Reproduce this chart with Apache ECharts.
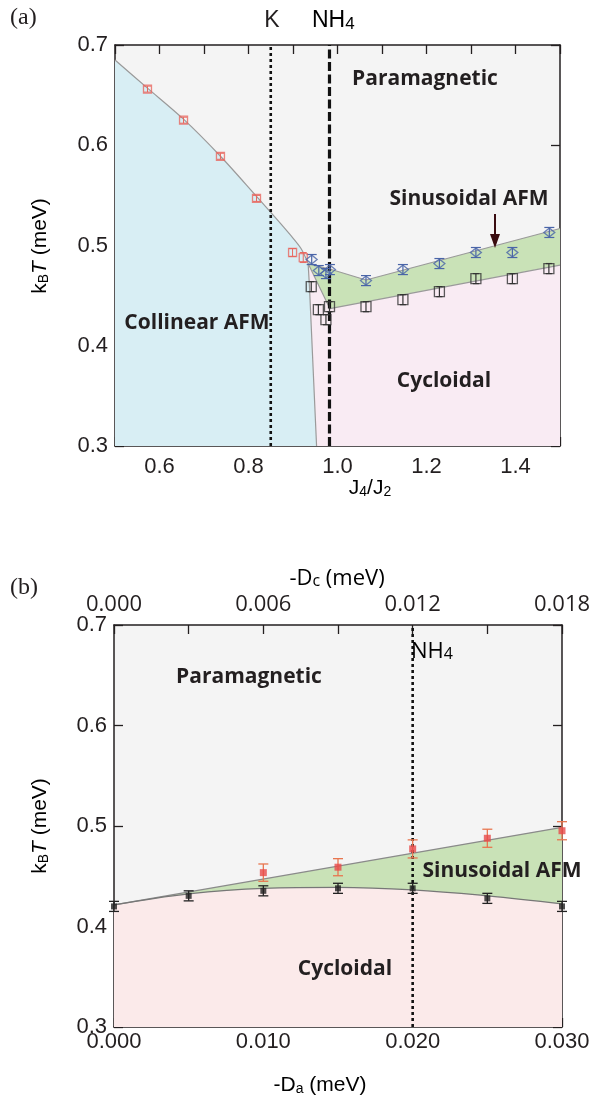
<!DOCTYPE html>
<html><head><meta charset="utf-8">
<script src="https://cdn.jsdelivr.net/npm/echarts@6/dist/echarts.min.js"></script>
<style>html,body{margin:0;padding:0;background:#fff}#c{width:594px;height:1101px}</style>
</head><body><div id="c"></div>
<script>
// ---------- Panel (a) data ----------
const aRedJ = [0.573, 0.654, 0.737, 0.818, 0.899, 0.923];
const aRedT = [0.656, 0.625, 0.589, 0.547, 0.493, 0.488];
const aRedErr = [0.003, 0.003, 0.003, 0.003, 0.004, 0.005];
const aBlueJ = [0.942, 0.958, 0.974, 0.983, 1.064, 1.147, 1.229, 1.311, 1.393, 1.476];
const aBlueT = [0.486, 0.475, 0.472, 0.476, 0.465, 0.476, 0.482, 0.493, 0.493, 0.513];
const aBlueErr = [0.005, 0.005, 0.005, 0.005, 0.005, 0.005, 0.005, 0.005, 0.005, 0.005];
const aBlackJ = [0.941, 0.957, 0.974, 0.982, 1.064, 1.147, 1.229, 1.311, 1.393, 1.475];
const aBlackT = [0.459, 0.436, 0.426, 0.439, 0.439, 0.446, 0.454, 0.467, 0.467, 0.477];
const aBlackErr = [0.005, 0.005, 0.005, 0.005, 0.005, 0.005, 0.005, 0.005, 0.005, 0.005];
// phase boundaries (a)
const aParaCollJ = [0.5, 0.573, 0.654, 0.737, 0.818, 0.860, 0.895, 0.918, 0.934];
const aParaCollT = [0.685, 0.657, 0.626, 0.589, 0.549, 0.528, 0.510, 0.497, 0.482];
const aCollCycJ = [0.934, 0.937, 0.953];
const aCollCycT = [0.482, 0.459, 0.300];
const aSinUpJ = [0.934, 0.990, 1.064, 1.500];
const aSinUpT = [0.482, 0.4756, 0.4656, 0.517];
const aSinLowJ = [0.934, 0.983, 1.500];
const aSinLowT = [0.482, 0.437, 0.4805];
const aK = 0.85, aNH4 = 0.982;
const aXTicks = [0.6, 0.8, 1.0, 1.2, 1.4];

// ---------- Panel (b) data ----------
const bDa = [0, 0.005, 0.010, 0.015, 0.020, 0.025, 0.030];
const bBlackT = [0.420, 0.4305, 0.4355, 0.438, 0.438, 0.428, 0.420];
const bBlackErr = [0.005, 0.005, 0.005, 0.005, 0.005, 0.005, 0.005];
const bRedDa = [0.010, 0.015, 0.020, 0.025, 0.030];
const bRedT = [0.4536, 0.459, 0.4772, 0.4878, 0.4953];
const bRedErr = [0.0086, 0.0085, 0.009, 0.009, 0.009];
const bUpperDa = [0, 0.030];
const bUpperT = [0.4215, 0.4987];
const bLowerDa = [0, 0.005, 0.010, 0.015, 0.020, 0.025, 0.030];
const bLowerT = [0.4215, 0.4325, 0.438, 0.439, 0.4365, 0.4305, 0.4225];
const bNH4 = 0.020;

// ---------- styles ----------
const INK = '#231f20';
const C_PARA = '#f4f4f4', C_COLL = '#d8eef4', C_SIN = '#c9e2b7', C_CYC_A = '#f9ebf3', C_CYC_B = '#fbeaea';
const TICKFONT = 'Liberation Sans, Arial, sans-serif';
const MYRIAD = 'Open Sans, sans-serif';

function zipXY(xs, ys) { return xs.map((x, i) => [x, ys[i]]); }

function polySeries(xi, yi, xs, ys, color, z) {
  return { type: 'custom', xAxisIndex: xi, yAxisIndex: yi, z: z, silent: true,
    data: [[xs[0], ys[0]]],
    renderItem: (p, api) => ({ type: 'polygon',
      shape: { points: xs.map((x, i) => api.coord([x, ys[i]])) },
      style: { fill: color, stroke: null } }) };
}
function lineSeries(xi, yi, xs, ys, color, width, type, z) {
  return { type: 'line', xAxisIndex: xi, yAxisIndex: yi, z: z, silent: true, symbol: 'none',
    data: zipXY(xs, ys), lineStyle: { color: color, width: width, type: type || 'solid' }, animation: false };
}
function errSeries(xi, yi, xs, ys, errs, color, capW, lw, z) {
  return { type: 'custom', xAxisIndex: xi, yAxisIndex: yi, z: z, silent: true,
    data: xs.map((x, i) => [x, ys[i] - errs[i], ys[i] + errs[i]]),
    encode: { x: 0, y: [1, 2] },
    renderItem: (p, api) => {
      const lo = api.coord([api.value(0), api.value(1)]);
      const hi = api.coord([api.value(0), api.value(2)]);
      const st = { stroke: color, lineWidth: lw };
      return { type: 'group', children: [
        { type: 'line', shape: { x1: lo[0], y1: lo[1], x2: hi[0], y2: hi[1] }, style: st },
        { type: 'line', shape: { x1: lo[0] - capW, y1: lo[1], x2: lo[0] + capW, y2: lo[1] }, style: st },
        { type: 'line', shape: { x1: hi[0] - capW, y1: hi[1], x2: hi[0] + capW, y2: hi[1] }, style: st }
      ] };
    } };
}
function scatterSeries(xi, yi, xs, ys, symbol, size, color, filled, z) {
  return { type: 'scatter', xAxisIndex: xi, yAxisIndex: yi, z: z, silent: true,
    data: zipXY(xs, ys), symbol: symbol, symbolSize: size,
    itemStyle: filled ? { color: color, borderWidth: 0 } : { color: 'rgba(0,0,0,0)', borderColor: color, borderWidth: 1.3 } };
}

const axLine = { show: true, onZero: false, lineStyle: { color: INK, width: 1.5 } };
const tickIn = { show: true, inside: true, length: 9, lineStyle: { color: INK, width: 1.3 } };

function xAx(grid, pos, min, max, interval, labelFn, font, margin) {
  return { type: 'value', gridIndex: grid, position: pos, min: min, max: max, interval: interval,
    axisLine: axLine, axisTick: tickIn, splitLine: { show: false },
    axisLabel: labelFn ? { show: true, formatter: labelFn, color: INK, fontSize: 22, fontFamily: font, margin: margin } : { show: false } };
}
function yAx(grid, pos, labels) {
  return { type: 'value', gridIndex: grid, position: pos, min: 0.3, max: 0.7, interval: 0.1,
    axisLine: axLine, axisTick: tickIn, splitLine: { show: false },
    axisLabel: labels ? { show: true, formatter: v => v.toFixed(1), color: INK, fontSize: 22, fontFamily: TICKFONT, margin: 7 } : { show: false } };
}

// polygons (a)
const aCollJ = [0.5].concat(aParaCollJ, aCollCycJ.slice(1));
const aCollT = [0.3].concat(aParaCollT, aCollCycT.slice(1));
const aSinJ = aSinUpJ.concat(aSinLowJ.slice().reverse());
const aSinT = aSinUpT.concat(aSinLowT.slice().reverse());
const aCycJ = aCollCycJ.slice().reverse().concat(aSinLowJ.slice(1), [1.5]);
const aCycT = aCollCycT.slice().reverse().concat(aSinLowT.slice(1), [0.3]);
// polygons (b)
const bSinX = bUpperDa.concat(bLowerDa.slice().reverse());
const bSinY = bUpperT.concat(bLowerT.slice().reverse());
const bCycX = bLowerDa.concat([0.030, 0]);
const bCycY = bLowerT.concat([0.3, 0.3]);

const series = [
  // ----- (a) -----
  polySeries(0, 0, aCollJ, aCollT, C_COLL, 1),
  polySeries(0, 0, aSinJ, aSinT, C_SIN, 1),
  polySeries(0, 0, aCycJ, aCycT, C_CYC_A, 1),
  { ...lineSeries(0, 0, aParaCollJ, aParaCollT, '#9a9a9a', 1.2, 'solid', 2), smooth: 0.3 },
  lineSeries(0, 0, aCollCycJ, aCollCycT, '#9a9a9a', 1.2, 'solid', 2),
  lineSeries(0, 0, aSinUpJ, aSinUpT, '#9a9a9a', 1.2, 'solid', 2),
  lineSeries(0, 0, aSinLowJ, aSinLowT, '#9a9a9a', 1.2, 'solid', 2),
  lineSeries(0, 0, [aK, aK], [0.3, 0.7], '#111', 2.6, [3, 3], 3),
  lineSeries(0, 0, [aNH4, aNH4], [0.3, 0.7], '#111', 3.2, [9, 3.5], 3),
  errSeries(0, 0, aRedJ, aRedT, aRedErr, '#e8675f', 3.5, 1, 4),
  scatterSeries(0, 0, aRedJ, aRedT, 'rect', 8, '#e8675f', false, 5),
  errSeries(0, 0, aBlueJ, aBlueT, aBlueErr, '#4a65a8', 5, 1.2, 4),
  scatterSeries(0, 0, aBlueJ, aBlueT, 'diamond', [11, 9], '#4a65a8', false, 5),
  errSeries(0, 0, aBlackJ, aBlackT, aBlackErr, '#333', 3, 1.2, 4),
  scatterSeries(0, 0, aBlackJ, aBlackT, 'rect', 10, '#333', false, 5),
  // ----- (b) -----
  polySeries(4, 4, bSinX, bSinY, C_SIN, 1),
  polySeries(4, 4, bCycX, bCycY, C_CYC_B, 1),
  lineSeries(4, 4, bUpperDa, bUpperT, '#8a8a8a', 1.3, 'solid', 2),
  { ...lineSeries(4, 4, bLowerDa, bLowerT, '#777', 1.3, 'solid', 2), smooth: 0.4 },
  lineSeries(4, 4, [bNH4, bNH4], [0.3, 0.7], '#111', 2.6, [3, 3], 3),
  errSeries(4, 4, bRedDa, bRedT, bRedErr, '#e8764f', 5, 1.3, 4),
  scatterSeries(4, 4, bRedDa, bRedT, 'rect', 7, '#e84a4a', true, 5),
  errSeries(4, 4, bDa, bBlackT, bBlackErr, '#222', 5, 1.3, 4),
  scatterSeries(4, 4, bDa, bBlackT, 'rect', 6, '#222', true, 5)
];

const boldTxt = (x, y, t) => ({ type: 'text', x: x, y: y, z: 100,
  style: { text: t, fill: INK, font: 'bold 21px ' + MYRIAD, textAlign: 'center', textVerticalAlign: 'middle' } });

const option = {
  animation: false,
  backgroundColor: '#fff',
  grid: [
    { left: 115, right: 34, top: 45, height: 401, show: true, backgroundColor: C_PARA, borderWidth: 0 },
    { left: 114, right: 32, top: 625, height: 402, show: true, backgroundColor: C_PARA, borderWidth: 0 }
  ],
  xAxis: [
    xAx(0, 'bottom', 0.5, 1.5, 0.1, v => { const k = Math.round(v * 10); return aXTicks.some(t => Math.round(t * 10) === k) ? (k / 10).toFixed(1) : ''; }, TICKFONT, 10),
    xAx(0, 'top', 0.5, 1.5, 0.1, null),
    xAx(1, 'bottom', 0, 0.03, 0.005, v => Math.round(v * 1000) % 10 === 0 ? v.toFixed(3) : '', TICKFONT, 4),
    xAx(1, 'top', 0, 0.018, 0.003, v => Math.round(v * 1000) % 6 === 0 ? v.toFixed(3) : '', 'Open Sans, sans-serif', 9),
    { type: 'value', gridIndex: 1, position: 'bottom', min: 0, max: 0.03, show: false }
  ],
  yAxis: [
    yAx(0, 'left', true),
    yAx(0, 'right', false),
    yAx(1, 'left', true),
    yAx(1, 'right', false),
    { type: 'value', gridIndex: 1, min: 0.3, max: 0.7, show: false }
  ],
  series: series,
  graphic: [
    { type: 'text', x: 10, y: 18, style: { text: '(a)', fill: INK, font: '24px Liberation Serif, serif', textVerticalAlign: 'middle' } },
    { type: 'text', x: 10, y: 588, style: { text: '(b)', fill: INK, font: '24px Liberation Serif, serif', textVerticalAlign: 'middle' } },
    { type: 'text', x: 272, y: 21, style: { text: 'K', fill: INK, font: '23px ' + TICKFONT, textAlign: 'center', textVerticalAlign: 'middle' } },
    { type: 'text', x: 312, y: 21, style: { text: '{n|NH}{s|4}', textVerticalAlign: 'middle',
        rich: { n: { fontSize: 23, fontFamily: TICKFONT, color: INK }, s: { fontSize: 17, fontFamily: TICKFONT, color: INK, padding: [6, 0, 0, 0] } } } },
    { type: 'text', x: 370, y: 488, style: { text: '{n|J}{s|4}{n|/J}{s|2}', textAlign: 'center', textVerticalAlign: 'middle',
        rich: { n: { fontSize: 21, fontFamily: TICKFONT, color: INK }, s: { fontSize: 14, fontFamily: TICKFONT, color: INK, padding: [9, 0, 0, 0] } } } },
    { type: 'text', x: 40, y: 246, rotation: Math.PI / 2, style: { text: '{n|k}{s|B}{i|T}{n| (meV)}', textAlign: 'center', textVerticalAlign: 'middle',
        rich: { n: { fontSize: 21, fontFamily: TICKFONT, color: INK }, s: { fontSize: 14, fontFamily: TICKFONT, color: INK, padding: [9, 0, 0, 0] }, i: { fontSize: 21, fontStyle: 'italic', fontFamily: TICKFONT, color: INK } } } },
    { type: 'text', x: 40, y: 826, rotation: Math.PI / 2, style: { text: '{n|k}{s|B}{i|T}{n| (meV)}', textAlign: 'center', textVerticalAlign: 'middle',
        rich: { n: { fontSize: 21, fontFamily: TICKFONT, color: INK }, s: { fontSize: 14, fontFamily: TICKFONT, color: INK, padding: [9, 0, 0, 0] }, i: { fontSize: 21, fontStyle: 'italic', fontFamily: TICKFONT, color: INK } } } },
    { type: 'text', x: 320, y: 1085, style: { text: '{n|-D}{s|a}{n| (meV)}', textAlign: 'center', textVerticalAlign: 'middle',
        rich: { n: { fontSize: 21, fontFamily: TICKFONT, color: INK }, s: { fontSize: 14, fontFamily: TICKFONT, color: INK, padding: [9, 0, 0, 0] } } } },
    { type: 'text', x: 337, y: 579, style: { text: '{n|-D}{s|c}{n| (meV)}', textAlign: 'center', textVerticalAlign: 'middle',
        rich: { n: { fontSize: 22, fontFamily: 'Open Sans, sans-serif', color: INK }, s: { fontSize: 16, fontFamily: 'Open Sans, sans-serif', color: INK, padding: [5, 0, 0, 0] } } } },
    boldTxt(425, 79, 'Paramagnetic'),
    boldTxt(469, 199, 'Sinusoidal AFM'),
    boldTxt(197, 323, 'Collinear AFM'),
    boldTxt(444, 381, 'Cycloidal'),
    { type: 'line', z: 100, shape: { x1: 495, y1: 214, x2: 495, y2: 238 }, style: { stroke: '#3a0c10', lineWidth: 2 } },
    { type: 'polygon', z: 100, shape: { points: [[490, 234], [500, 234], [495, 248]] }, style: { fill: '#3a0c10' } },
    boldTxt(249, 677, 'Paramagnetic'),
    boldTxt(502, 871, 'Sinusoidal AFM'),
    boldTxt(345, 969, 'Cycloidal'),
    { type: 'text', x: 432, y: 652, z: 100, style: { text: '{n|NH}{s|4}', textAlign: 'center', textVerticalAlign: 'middle',
        rich: { n: { fontSize: 22, fontFamily: 'Open Sans, sans-serif', color: INK }, s: { fontSize: 16, fontFamily: 'Open Sans, sans-serif', color: INK, padding: [5, 0, 0, 0] } } } }
  ]
};

const chart = echarts.init(document.getElementById('c'), null, { renderer: 'canvas' });
chart.setOption(option);
</script>
</body></html>
